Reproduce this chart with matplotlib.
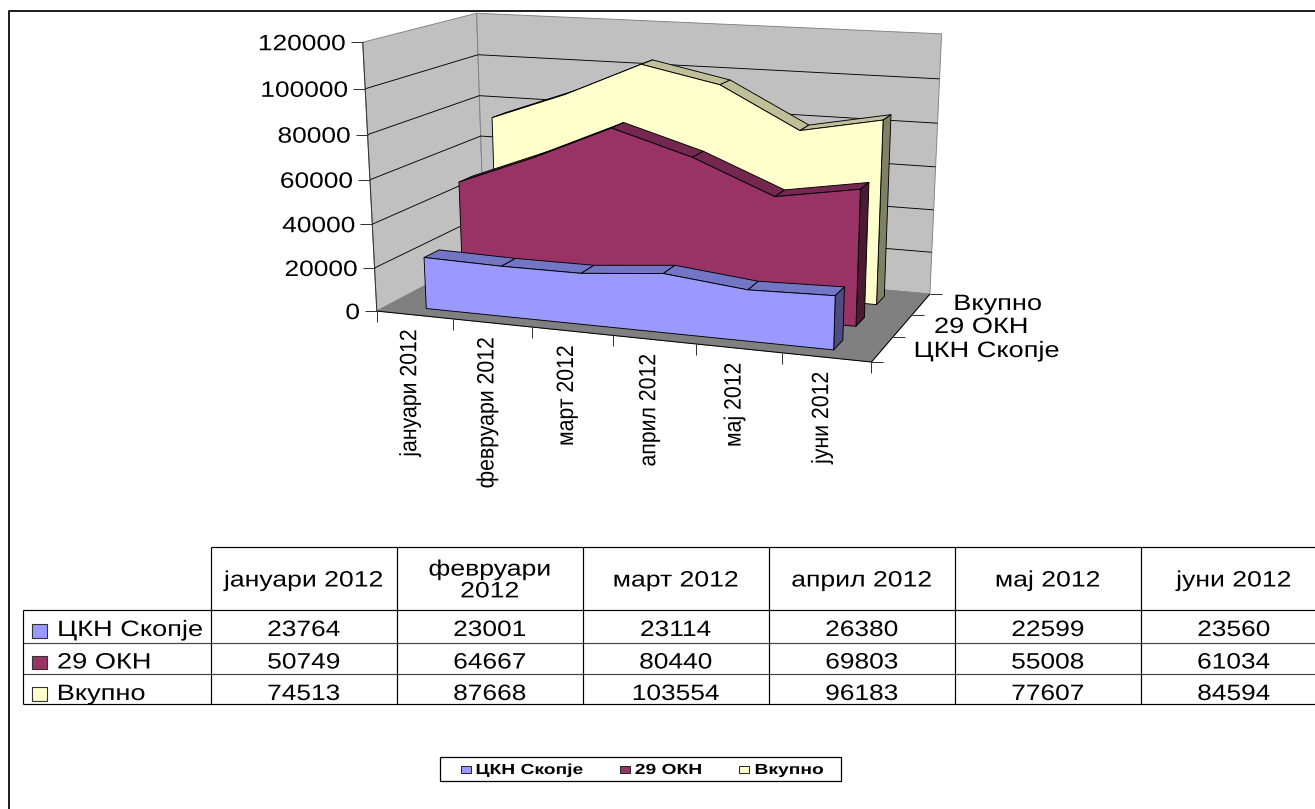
import numpy as np
import matplotlib
matplotlib.use('Agg')
import matplotlib.pyplot as plt
from matplotlib.patches import Polygon, Rectangle
from matplotlib.patheffects import AbstractPathEffect
from matplotlib.transforms import Affine2D

months = ['јануари 2012', 'февруари 2012', 'март 2012', 'април 2012', 'мај 2012', 'јуни 2012']
table_heads = ['јануари 2012', 'февруари\n2012', 'март 2012', 'април 2012', 'мај 2012', 'јуни 2012']
series_names = ['ЦКН Скопје', '29 ОКН', 'Вкупно']
ckn = [23764, 23001, 23114, 26380, 22599, 23560]
okn = [50749, 64667, 80440, 69803, 55008, 61034]
total = [74513, 87668, 103554, 96183, 77607, 84594]
value_ticks = [0, 20000, 40000, 60000, 80000, 100000, 120000]
vmax = 120000

front_cols = ['#9999FF', '#993366', '#FFFFCC']
top_cols = ['#7276C4', '#74274F', '#BFBF99']
side_cols = ['#4D4D80', '#4D1A33', '#808066']

plt.rcParams['font.family'] = ['Liberation Sans', 'DejaVu Sans']

# the box of the 3d chart: (category, value, depth) -> picture pixels
corners = [((0, 0, 0), (376.4, 310.0)), ((1, 0, 0), (871.6, 362.7)),
           ((1, 0, 1), (929.7, 293.3)), ((0, 0, 1), (485.0, 255.0)),
           ((0, 1, 0), (363.0, 42.7)), ((0, 1, 1), (476.4, 12.7)),
           ((1, 1, 1), (941.6, 34.0))]
A = []
b = []
for (u, v, w), (px, py) in corners:
    A.append([u, v, w, 1, 0, 0, 0, 0, -px * u, -px * v, -px * w])
    A.append([0, 0, 0, 0, u, v, w, 1, -py * u, -py * v, -py * w])
    b += [px, py]
P = np.append(np.linalg.lstsq(np.array(A, float), np.array(b), rcond=None)[0], 1).reshape(3, 4)


def proj(u, val, w):
    r = P @ np.array([u, val / vmax, w, 1.0])
    return r[0] / r[2], r[1] / r[2]


class Stretch(AbstractPathEffect):
    # widens or narrows the glyphs along the text line, text stays text
    def __init__(self, sx, anchor='center'):
        super().__init__()
        self.sx = sx
        self.anchor = anchor

    def draw_path(self, renderer, gc, tpath, affine, rgbFace=None):
        xs = tpath.vertices[:, 0]
        if self.anchor == 'right':
            ref = xs.max()
        else:
            ref = (xs.min() + xs.max()) / 2
        t = Affine2D().translate(-ref, 0).scale(self.sx, 1).translate(ref, 0) + affine
        renderer.draw_path(gc, tpath, t, rgbFace)


fig = plt.figure(figsize=(13.15, 8.09), dpi=100)
ax = fig.add_axes([0, 0, 1, 1])
ax.set_xlim(0, 1315)
ax.set_ylim(809, 0)
ax.axis('off')

PX = 0.72


def line(pts, color='black', lw=1.0, z=2):
    xs, ys = zip(*pts)
    ax.plot(xs, ys, color=color, lw=lw * PX, zorder=z, solid_capstyle='butt')


def quad(pts, color, edge='none', z=2):
    ax.add_patch(Polygon(pts, closed=True, facecolor=color, edgecolor=edge, lw=0.9 * PX,
                         zorder=z, joinstyle='round'))


def label(x, y, s, size, sx, ha='center', va='center', anchor='center', **kw):
    t = ax.text(x, y, s, fontsize=size, ha=ha, va=va, color='black', zorder=8, **kw)
    t.set_path_effects([Stretch(sx, anchor)])
    return t


# outer frame
line([(9.5, 809), (9.5, 11), (1315, 11)], color='#222222', lw=2)

# walls and floor
quad([proj(0, 0, 0), proj(0, vmax, 0), proj(0, vmax, 1), proj(0, 0, 1)], '#C0C0C0', '#808080', 1)
quad([proj(0, 0, 1), proj(0, vmax, 1), proj(1, vmax, 1), proj(1, 0, 1)], '#C0C0C0', '#808080', 1)
quad([proj(0, 0, 0), proj(1, 0, 0), proj(1, 0, 1), proj(0, 0, 1)], '#808080', '#808080', 1)

for val in value_ticks[1:-1]:
    line([proj(0, val, 0), proj(0, val, 1), proj(1, val, 1)], lw=0.9, z=1.5)

# axes lines and ticks
line([proj(0, 0, 0), proj(0, vmax, 0)], color='#333333', z=1.6)
line([proj(0, 0, 0), proj(1, 0, 0)], z=1.6)
line([proj(1, 0, 0), proj(1, 0, 1)], z=1.6)
for val in value_ticks:
    x, y = proj(0, val, 0)
    line([(x - 12, y), (x, y)], color='#333333')
    label(x - 17, y + 2.5, str(val), 16, 1.184, ha='right', anchor='right')
for i in range(len(months) + 1):
    x, y = proj(i / len(months), 0, 0)
    line([(x, y), (x, y + 11)], color='#333333')
for i in range(len(series_names) + 1):
    x, y = proj(1, 0, i / len(series_names))
    line([(x, y), (x + 12, y)], color='#333333')

# rotated category labels
for i, m in enumerate(months):
    x, y = proj((i + 0.5) / len(months), 0, 0)
    label(x - 5, y + 14, m, 17, 0.9, va='top', rotation=90, anchor='right')

depth_x = [986.5, 981, 997.5]
depth_y = [351.5, 327.5, 304.5]
for s, x, y in zip(series_names, depth_x, depth_y):
    label(x, y, s, 16, 1.224)

# area slabs, back one first
series = [ckn, okn, total]
n = len(months)
for k in [2, 1, 0]:
    w0 = k / 3 + 0.1
    w1 = k / 3 + 0.1 + 0.4 / 3
    vals = series[k]
    us = [(i + 0.5) / n for i in range(n)]
    z = 3 + (2 - k)
    for i in range(n - 1):
        quad([proj(us[i], vals[i], w0), proj(us[i + 1], vals[i + 1], w0),
              proj(us[i + 1], vals[i + 1], w1), proj(us[i], vals[i], w1)], top_cols[k], 'black', z)
    quad([proj(us[-1], 0, w0), proj(us[-1], vals[-1], w0),
          proj(us[-1], vals[-1], w1), proj(us[-1], 0, w1)], side_cols[k], 'black', z)
    front = [proj(us[0], 0, w0)] + [proj(u, v, w0) for u, v in zip(us, vals)] + [proj(us[-1], 0, w0)]
    quad(front, front_cols[k], 'black', z)

# data table
col_x = [210.7 + 186 * i for i in range(7)]
row_y = [547, 610, 642.7, 674, 704]
left_x = 23.3
line([(col_x[0], row_y[0]), (1315, row_y[0])], lw=1.2)
line([(left_x, row_y[1]), (1315, row_y[1])], lw=1.2)
line([(left_x, row_y[2]), (1315, row_y[2])], color='#444444', lw=1.2)
line([(left_x, row_y[3]), (1315, row_y[3])], color='#444444', lw=1.2)
line([(left_x, row_y[4]), (1315, row_y[4])], lw=1.2)
line([(left_x, row_y[1]), (left_x, row_y[-1])], lw=1.2)
for xx in col_x[:-1]:
    line([(xx, row_y[0]), (xx, row_y[-1])], lw=1.2)
for i, h in enumerate(table_heads):
    label(col_x[i] + 93, 581, h, 16, 1.197, linespacing=1.05)
val_y = [630.5, 663, 694.5]
name_x = [130, 104, 101]
swatch_y = [624, 655.7, 687]
for k, name in enumerate(series_names):
    ax.add_patch(Rectangle((31.7, swatch_y[k]), 15, 13.5, facecolor=front_cols[k],
                           edgecolor='#333333', lw=0.8, zorder=8))
    label(name_x[k], val_y[k], name, 16, 1.224)
    for i, v in enumerate(series[k]):
        label(col_x[i] + 93, val_y[k], str(v), 16, 1.184)

# legend
ax.add_patch(Rectangle((440, 757), 400.7, 24, facecolor='white', edgecolor='black', lw=0.9, zorder=7))
leg_swatch = [460.7, 620, 739]
leg_x = [529.5, 668.5, 789]
for k, name in enumerate(series_names):
    ax.add_patch(Rectangle((leg_swatch[k], 765.7), 10, 7.5, facecolor=front_cols[k],
                           edgecolor='#222222', lw=0.7, zorder=8))
    label(leg_x[k], 770, name, 10.5, 1.32, fontweight='bold')

fig.savefig('out.png', dpi=100)
